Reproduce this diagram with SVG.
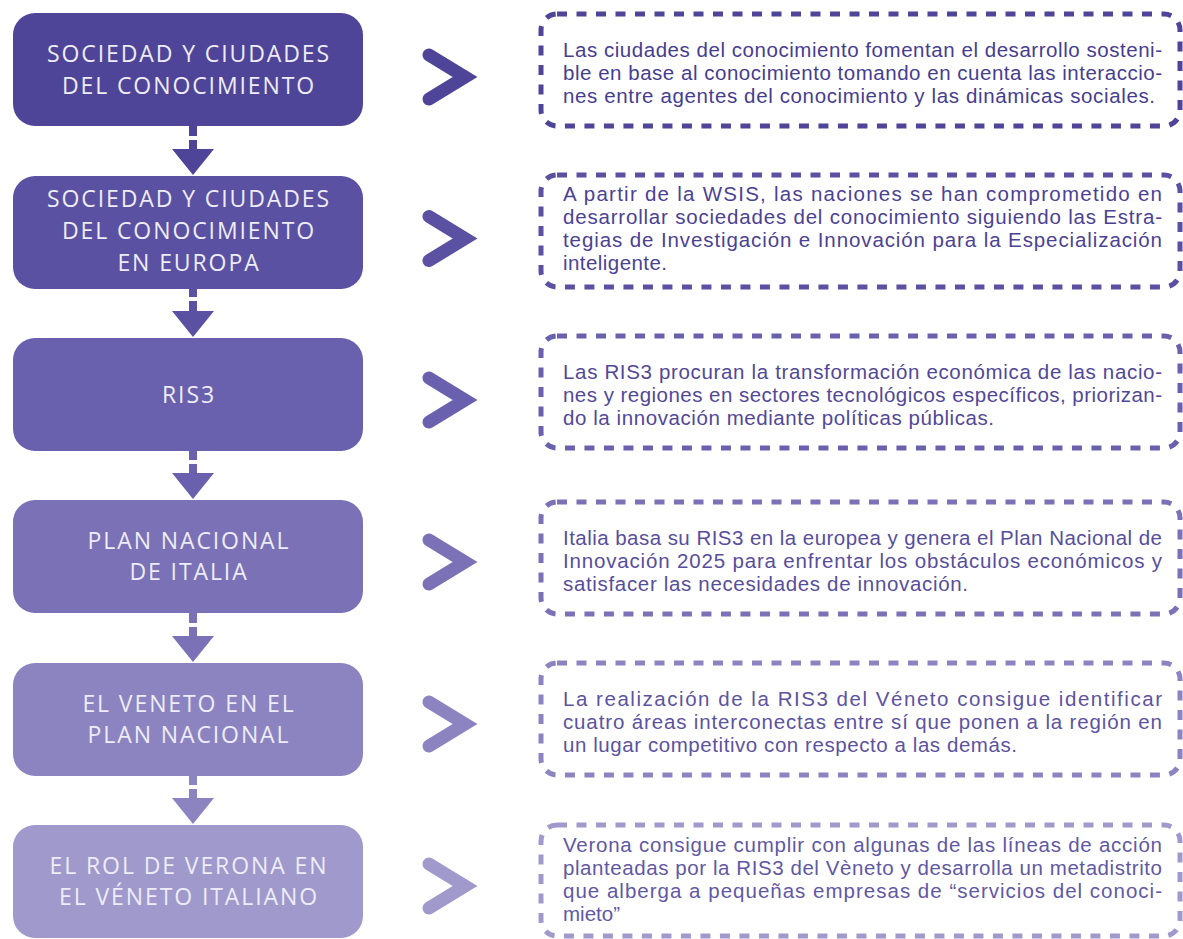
<svg xmlns="http://www.w3.org/2000/svg" width="1183" height="939" viewBox="0 0 1183 939">
<style>
.node rect{stroke:none}
.nt{font-family:"Open Sans","Liberation Sans",sans-serif;font-size:23px;fill:#eeecf7;text-anchor:middle;letter-spacing:1.9px}
.dbox{fill:none;stroke-width:5;stroke-dasharray:10 9.5}
.dt{font-family:"Liberation Sans",Arial,sans-serif;font-size:20.5px}
.chev{fill:none;stroke-width:13;stroke-linecap:round;stroke-linejoin:miter}
</style>
<rect width="1183" height="939" fill="#ffffff"/>
<g id="connectors">
  <g fill="#4f4598"><rect x="189" y="126" width="8" height="10"/><rect x="189" y="140" width="8" height="10"/><polygon points="172,149 214,149 193,175"/></g>
  <g fill="#5a51a2"><rect x="189" y="289" width="8" height="8"/><rect x="189" y="301" width="8" height="11"/><polygon points="172,311 214,311 193,337"/></g>
  <g fill="#6961ad"><rect x="189" y="451" width="8" height="9"/><rect x="189" y="464" width="8" height="10"/><polygon points="172,473 214,473 193,499"/></g>
  <g fill="#7a71b6"><rect x="189" y="613" width="8" height="10"/><rect x="189" y="627" width="8" height="10"/><polygon points="172,636 214,636 193,662"/></g>
  <g fill="#8b84c1"><rect x="189" y="776" width="8" height="9"/><rect x="189" y="789" width="8" height="10"/><polygon points="172,798 214,798 193,824"/></g>
</g>
<g id="node1" class="node"><rect x="13" y="13" width="350" height="113" rx="22" fill="#4f4598"/>
  <text class="nt" x="189" y="62">SOCIEDAD Y CIUDADES</text><text class="nt" x="189" y="93.5">DEL CONOCIMIENTO</text></g>
<g id="node2" class="node"><rect x="13" y="176" width="350" height="113" rx="22" fill="#5a51a2"/>
  <text class="nt" x="189" y="207">SOCIEDAD Y CIUDADES</text><text class="nt" x="189" y="239">DEL CONOCIMIENTO</text><text class="nt" x="189" y="271">EN EUROPA</text></g>
<g id="node3" class="node"><rect x="13" y="338" width="350" height="113" rx="22" fill="#6961ad"/>
  <text class="nt" x="189" y="403">RIS3</text></g>
<g id="node4" class="node"><rect x="13" y="500" width="350" height="113" rx="22" fill="#7a71b6"/>
  <text class="nt" x="189" y="548.5">PLAN NACIONAL</text><text class="nt" x="189" y="580">DE ITALIA</text></g>
<g id="node5" class="node"><rect x="13" y="663" width="350" height="113" rx="22" fill="#8b84c1"/>
  <text class="nt" x="189" y="711.5">EL VENETO EN EL</text><text class="nt" x="189" y="743">PLAN NACIONAL</text></g>
<g id="node6" class="node"><rect x="13" y="825" width="350" height="113" rx="22" fill="#9f99cc"/>
  <text class="nt" x="189" y="873.5">EL ROL DE VERONA EN</text><text class="nt" x="189" y="905">EL VÉNETO ITALIANO</text></g>

<g id="chevrons">
  <path class="chev" stroke="#4f4598" d="M429,55 L465,77 L429,99"/>
  <path class="chev" stroke="#5a51a2" d="M429,216.5 L465,238.5 L429,260.5"/>
  <path class="chev" stroke="#6961ad" d="M429,378 L465,400 L429,422"/>
  <path class="chev" stroke="#7a71b6" d="M429,540 L465,562 L429,584"/>
  <path class="chev" stroke="#8b84c1" d="M429,702 L465,724 L429,746"/>
  <path class="chev" stroke="#9f99cc" d="M429,864 L465,886 L429,908"/>
</g>

<g id="desc1"><rect class="dbox" x="541" y="14" width="639" height="112" rx="16" stroke="#4f4598"/>
  <text class="dt" fill="#463d90"><tspan x="563" y="57" textLength="599" lengthAdjust="spacing">Las ciudades del conocimiento fomentan el desarrollo sosteni-</tspan><tspan x="563" y="80" textLength="599" lengthAdjust="spacing">ble en base al conocimiento tomando en cuenta las interaccio-</tspan><tspan x="563" y="103" textLength="592" lengthAdjust="spacing">nes entre agentes del conocimiento y las dinámicas sociales.</tspan></text></g>
<g id="desc2"><rect class="dbox" x="541" y="175" width="639" height="112" rx="16" stroke="#5a51a2"/>
  <text class="dt" fill="#4b4294"><tspan x="563" y="201" textLength="599" lengthAdjust="spacing">A partir de la WSIS, las naciones se han comprometido en</tspan><tspan x="563" y="224" textLength="599" lengthAdjust="spacing">desarrollar sociedades del conocimiento  siguiendo las Estra-</tspan><tspan x="563" y="247" textLength="599" lengthAdjust="spacing">tegias de Investigación e Innovación para la Especialización</tspan><tspan x="563" y="270" textLength="104" lengthAdjust="spacing">inteligente.</tspan></text></g>
<g id="desc3"><rect class="dbox" x="541" y="336" width="639" height="112" rx="16" stroke="#6961ad"/>
  <text class="dt" fill="#514898"><tspan x="563" y="379" textLength="599" lengthAdjust="spacing">Las RIS3 procuran la transformación económica de las nacio-</tspan><tspan x="563" y="402" textLength="599" lengthAdjust="spacing">nes y regiones en sectores tecnológicos específicos, priorizan-</tspan><tspan x="563" y="425" textLength="431" lengthAdjust="spacing">do la innovación mediante políticas públicas.</tspan></text></g>
<g id="desc4"><rect class="dbox" x="541" y="502" width="639" height="112" rx="16" stroke="#7a71b6"/>
  <text class="dt" fill="#574e9c"><tspan x="563" y="545" textLength="599" lengthAdjust="spacing">Italia basa su RIS3 en la europea y genera el Plan Nacional de</tspan><tspan x="563" y="568" textLength="599" lengthAdjust="spacing">Innovación 2025 para enfrentar los obstáculos económicos  y</tspan><tspan x="563" y="591" textLength="405" lengthAdjust="spacing">satisfacer las necesidades de innovación.</tspan></text></g>
<g id="desc5"><rect class="dbox" x="541" y="663" width="639" height="112" rx="16" stroke="#8b84c1"/>
  <text class="dt" fill="#5c53a0"><tspan x="563" y="706" textLength="599" lengthAdjust="spacing">La realización de la RIS3 del Véneto consigue identificar</tspan><tspan x="563" y="729" textLength="599" lengthAdjust="spacing">cuatro áreas interconectas entre sí que ponen a la región en</tspan><tspan x="563" y="752" textLength="454" lengthAdjust="spacing">un lugar competitivo con respecto a las demás.</tspan></text></g>
<g id="desc6"><rect class="dbox" x="541" y="825" width="639" height="111" rx="16" stroke="#9f99cc"/>
  <text class="dt" fill="#6158a4"><tspan x="563" y="852" textLength="599" lengthAdjust="spacing">Verona consigue cumplir con algunas de las líneas de acción</tspan><tspan x="563" y="875" textLength="599" lengthAdjust="spacing">planteadas por la RIS3 del Vèneto y desarrolla un metadistrito</tspan><tspan x="563" y="898" textLength="599" lengthAdjust="spacing">que alberga a pequeñas empresas de “servicios del conoci-</tspan><tspan x="563" y="921">mieto”</tspan></text></g>
</svg>
